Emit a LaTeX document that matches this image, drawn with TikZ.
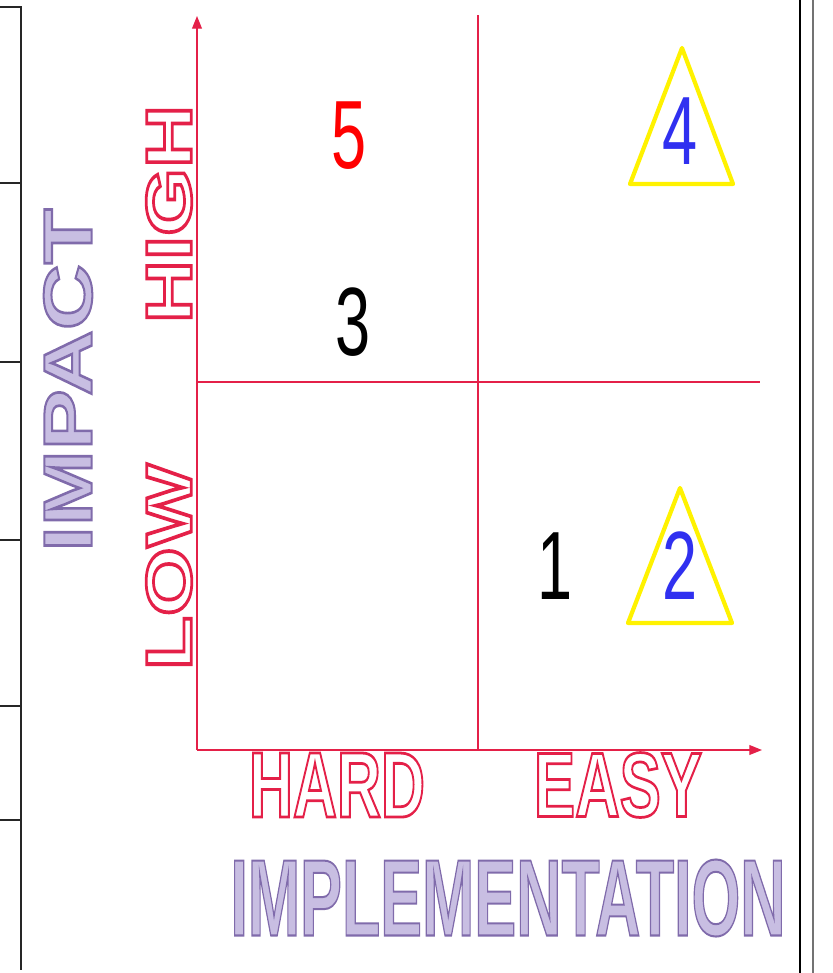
\documentclass[tikz,border=0pt]{standalone}
\usepackage{fontspec}
\setmainfont{Liberation Sans}
\usetikzlibrary{arrows.meta}
\definecolor{axisred}{RGB}{228,32,72}
\definecolor{lavfill}{RGB}{200,190,226}
\definecolor{lavline}{RGB}{128,108,170}
\definecolor{numblue}{RGB}{48,48,240}
\newlength\pxu
\setlength\pxu{0.7113pt}
% outlined words: width, height (px), text
\newcommand\hollow[3]{\resizebox{#1\pxu}{#2\pxu}{\fontsize{\dimexpr #2\pxu*1000/716\relax}{10pt}\selectfont\bfseries
  \color{axisred}\special{pdf:literal direct 1 Tr 1.9 w}#3\special{pdf:literal direct 0 Tr}}}
\newcommand\shaded[3]{\resizebox{#1\pxu}{#2\pxu}{\fontsize{\dimexpr #2\pxu*1000/716\relax}{10pt}\selectfont\bfseries
  \color{lavfill}\special{pdf:literal direct 2 Tr 1.4 w 0.50 0.42 0.67 RG}#3\special{pdf:literal direct 0 Tr}}}
\newcommand\narrow[1]{\scalebox{0.65}[1]{#1}}
\tikzset{
frame/.style={draw=black!85,line width=1.6pt},
axisline/.style={draw=axisred,line width=0.9pt},
axisarrow/.style={axisline,-{Triangle[length=9pt,width=7pt]}},
word/.style={inner sep=0pt,anchor=center},
num/.style={inner sep=0pt,font=\fontsize{69}{69}\selectfont},
tri/.style={draw=yellow,line width=3pt,line join=round}
}
\begin{document}
\begin{tikzpicture}[x=0.025cm,y=-0.025cm]
\useasboundingbox (0,0) rectangle (833,973);
% page frame
\draw[frame] (0,7) -- (21,7) -- (21,970);
\foreach \yy in {183,362,540,706,820}
  \draw[frame] (0,\yy) -- (21,\yy);
\draw[line width=2pt,black] (800,0) -- (800,973);
\draw[line width=1.6pt,black!55] (813,0) -- (813,973);
% axes
\coordinate (O) at (197,750);
\coordinate (ytop) at (197,16);
\coordinate (xend) at (762,750);
\coordinate (midtop) at (478,15);
\coordinate (midbot) at (478,750);
\coordinate (midl) at (197,382);
\coordinate (midr) at (760,382);
\draw[axisarrow] (O) -- (ytop);
\draw[axisarrow] (O) -- (xend);
\draw[axisline] (midtop) -- (midbot);
\draw[axisline] (midl) -- (midr);
% axis words
\node[word,rotate=90] (high) at (169,214) {\hollow{218}{45}{HIGH}};
\node[word,rotate=90] (low) at (169,567) {\hollow{206}{45}{LOW}};
\node[word] (hard) at (337,785) {\hollow{176}{64}{HARD}};
\node[word] (easy) at (618,785) {\hollow{168}{64}{EASY}};
\node[word,rotate=90] (impact) at (68,380) {\shaded{343}{48}{IMPACT}};
\node[word] (implem) at (508,898) {\shaded{555}{76}{IMPLEMENTATION}};
% triangles
\draw[tri] (630,184) -- (682,48) -- (733,184) -- cycle;
\draw[tri] (628,623) -- (680,488) -- (732,623) -- cycle;
% items
\node[num,text=red] (n5) at (349,136) {\narrow{5}};
\node[num] (n3) at (353,322) {\narrow{3}};
\node[num,text=numblue] (n4) at (680,131) {\narrow{4}};
\node[num] (n1) at (555,566) {\narrow{1}};
\node[num,text=numblue] (n2) at (680,566) {\narrow{2}};
\end{tikzpicture}
\end{document}
